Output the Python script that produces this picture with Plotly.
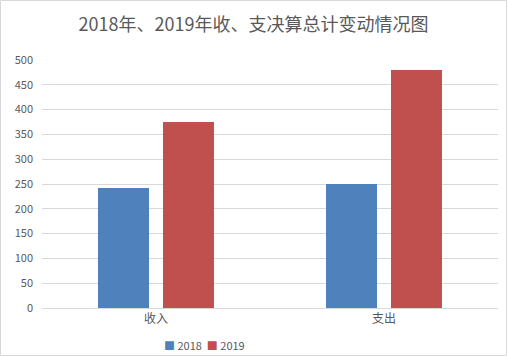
import plotly.graph_objects as go

categories = ["收入", "支出"]
series_names = ["2018", "2019"]
values_2018 = [242, 250]
values_2019 = [375, 480]
colors = ["#4F81BD", "#C0504D"]
title_text = "2018年、2019年收、支决算总计变动情况图"

font_family = "Noto Sans CJK SC, Noto Sans, sans-serif"

fig = go.Figure()
for name, vals, col in zip(series_names, [values_2018, values_2019], colors):
    fig.add_trace(go.Bar(x=categories, y=vals, name=name, marker=dict(color=col, line=dict(width=0))))

legend_text = "  ".join(
    f"<span style='color:{c}'>■</span> {n}" for n, c in zip(series_names, colors)
)

fig.update_layout(
    width=507, height=356,
    margin=dict(l=42, r=9, t=60, b=48, autoexpand=False),
    paper_bgcolor="white", plot_bgcolor="white",
    barmode="group", bargap=0.43, bargroupgap=0.215,
    showlegend=False,
    title=dict(text=title_text, x=0.5, xanchor="center", y=0.93, yanchor="middle",
               font=dict(family=font_family, size=18, color="#595959")),
    font=dict(family=font_family, size=11, color="#595959"),
    xaxis=dict(showgrid=False, showline=True, linecolor="#d9d9d9", linewidth=1,
               ticks="", tickfont=dict(size=12, color="#595959")),
    yaxis=dict(range=[0, 500], dtick=50, showgrid=True, gridcolor="#d9d9d9", gridwidth=1,
               zeroline=False, showline=False, ticks="", ticklabelstandoff=8,
               tickfont=dict(size=11, color="#595959")),
    annotations=[dict(text=legend_text, xref="paper", yref="paper", x=(204 - 42) / 456,
                      y=-37 / 248, xanchor="center", yanchor="middle", showarrow=False,
                      font=dict(size=11, color="#595959"))],
    shapes=[dict(type="rect", xref="paper", yref="paper", x0=-41.5 / 456, x1=1 + 8.5 / 456,
                 y0=-47.5 / 248, y1=1 + 59.5 / 248, line=dict(color="#d9d9d9", width=1))],
)

fig.write_html("out.html", config={"displayModeBar": False},
               post_script="document.body.style.margin='0';")
